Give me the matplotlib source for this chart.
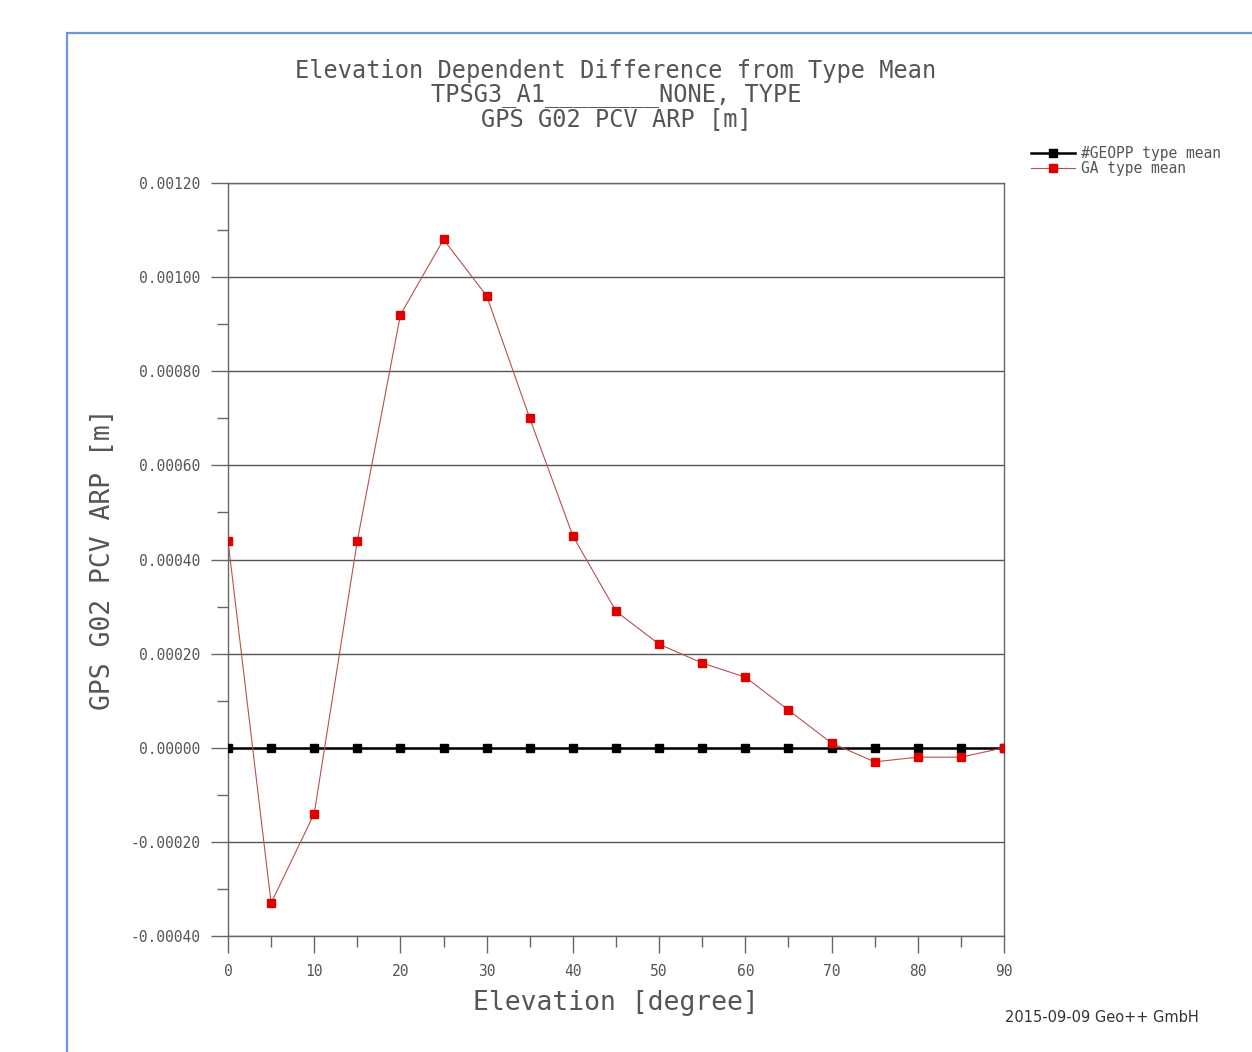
import numpy as np
import matplotlib.pyplot as plt
from matplotlib.patches import Rectangle
from matplotlib.ticker import MultipleLocator

elev = [0, 5, 10, 15, 20, 25, 30, 35, 40, 45, 50, 55, 60, 65, 70, 75, 80, 85, 90]
geopp = [0.0] * len(elev)
ga = [0.00044, -0.00033, -0.00014, 0.00044, 0.00092, 0.00108, 0.00096, 0.00070,
      0.00045, 0.00029, 0.00022, 0.00018, 0.00015, 0.00008, 0.00001, -0.00003,
      -0.00002, -0.00002, 0.0]
yticks = [-0.0004, -0.0002, 0.0, 0.0002, 0.0004, 0.0006, 0.0008, 0.0010, 0.0012]
title_lines = ['Elevation Dependent Difference from Type Mean',
               'TPSG3_A1________NONE, TYPE',
               'GPS G02 PCV ARP [m]']

mono = 'DejaVu Sans Mono'
txt = '#555555'

fig = plt.figure(figsize=(12.52, 10.52), dpi=100)
# blue frame of the screenshot
fig.patches.append(Rectangle((67/1252, -0.01), 1.2, 1 - 33/1052 + 0.01, transform=fig.transFigure,
                             fill=False, edgecolor='#6a98d8', linewidth=1.6))

ax = fig.add_axes([228/1252, 116/1052, 776/1252, 753/1052])
l1, = ax.plot(elev, geopp, color='black', lw=1.8, marker='s', ms=6, mfc='black', mec='black',
              label='#GEOPP type mean', zorder=3)
l2, = ax.plot(elev, ga, color='#b85050', lw=0.8, marker='s', ms=6, mfc='#e00000', mec='#e00000',
              label='GA type mean', zorder=4)
for ln in (l1, l2):
    ln.set_clip_path(ax.patch)

ax.set_xlim(0, 90)
ax.set_ylim(-0.0004, 0.0012)
ax.set_xticks(range(0, 91, 10))
ax.xaxis.set_minor_locator(MultipleLocator(5))
ax.set_yticks(yticks)
ax.yaxis.set_minor_locator(MultipleLocator(0.0001))
ax.set_yticklabels(['%.5f' % v for v in yticks])
ax.grid(axis='y', which='major', color='#555555', lw=1.0)
for s in ax.spines.values():
    s.set_color('#666666')
    s.set_linewidth(1.0)
ax.tick_params(which='major', direction='out', length=12, width=1, color='#666666',
               labelsize=10.5, labelcolor=txt, pad=8)
ax.tick_params(which='minor', direction='out', length=8, width=1, color='#666666')
for lab in ax.get_xticklabels() + ax.get_yticklabels():
    lab.set_family(mono)

ax.set_xlabel('Elevation [degree]', fontsize=19, family=mono, color=txt, labelpad=8)
ax.set_ylabel('GPS G02 PCV ARP [m]', fontsize=19, family=mono, color=txt, labelpad=10)

for i, line in enumerate(title_lines):
    fig.text(616/1252, 1 - (71 + 24 * i)/1052, line, ha='center', va='center',
             fontsize=17, family=mono, color=txt)

fig.legend(loc='upper left', bbox_to_anchor=(1018/1252, 1 - 133/1052), frameon=False,
           handlelength=3.0, handletextpad=0.4, labelspacing=0.0,
           prop={'family': mono, 'size': 10.5}, labelcolor=txt)

fig.text(1005/1252, 1 - 1017/1052, '2015-09-09 Geo++ GmbH', fontsize=10.5, color='#333333',
         ha='left', va='center')

fig.savefig('out.png', dpi=100)
